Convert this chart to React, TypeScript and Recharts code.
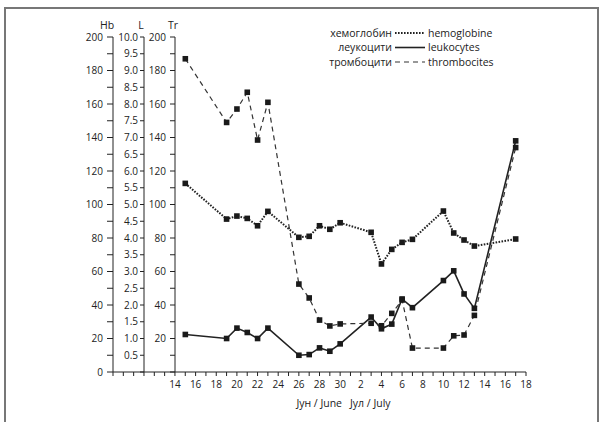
import React from 'react';
import { LineChart, Line, XAxis, YAxis } from 'recharts';

// Day index: June d -> d, July d -> 30 + d
const days = [15, 19, 20, 21, 22, 23, 26, 27, 28, 29, 30, 33, 34, 35, 36, 37, 40, 41, 42, 43, 47];
const hemoglobin = [112.6, 91.3, 93.1, 91.7, 87.3, 95.9, 80.4, 81, 87.3, 85.2, 89.1, 83.4, 64.5, 73.2, 77.4, 79.2, 96.1, 83, 78.8, 75.2, 79.4];
const leukocytes = [1.12, 1.0, 1.31, 1.18, 1.0, 1.31, 0.5, 0.52, 0.72, 0.62, 0.84, 1.64, 1.29, 1.43, 2.18, 1.92, 2.73, 3.02, 2.33, 1.9, 6.9];
const thrombocytes = [187, 149, 157, 167, 138.5, 161, 52.5, 44.2, 31, 27.5, 28.7, 29.1, 27.6, 35, 43, 14.3, 14.3, 21.6, 22.1, 33.8, 134];

const xTicks = [8, 9, 10, 11, 12, 13, 14, 15, 16, 17, 18, 19, 20, 21, 22, 23, 24, 25, 26, 27, 28, 29, 30, 31, 32, 33, 34, 35, 36, 37, 38, 39, 40, 41, 42, 43, 44, 45, 46, 47, 48];
const hbTicks = [0, 10, 20, 30, 40, 50, 60, 70, 80, 90, 100, 110, 120, 130, 140, 150, 160, 170, 180, 190, 200];
const trTicks = [0, 10, 20, 30, 40, 50, 60, 70, 80, 90, 100, 110, 120, 130, 140, 150, 160, 170, 180, 190, 200];
const lTicks = [0, 0.5, 1, 1.5, 2, 2.5, 3, 3.5, 4, 4.5, 5, 5.5, 6, 6.5, 7, 7.5, 8, 8.5, 9, 9.5, 10];

const axisTitles = { hb: 'Hb', l: 'L', tr: 'Tr' };
const monthLabels = ['Јун / June', 'Јул / July'];
const legendItems = [
  { mk: 'хемоглобин', en: 'hemoglobine', key: 'hb' },
  { mk: 'леукоцити', en: 'leukocytes', key: 'l' },
  { mk: 'тромбоцити', en: 'thrombocites', key: 'tr' },
];

const rows = days.map((d, i) => ({ day: d, hb: hemoglobin[i], l: leukocytes[i], tr: thrombocytes[i] }));

const FONT = '"Open Sans", sans-serif';
const INK = '#222';
const tickStyle = { fill: INK, fontSize: 10, fontFamily: FONT };

const lineStyles: Record<string, { dash?: string; width: number; color: string }> = {
  hb: { dash: '1.6 1.4', width: 2, color: '#222' },
  l: { width: 1.6, color: '#222' },
  tr: { dash: '5 4', width: 1.2, color: '#333' },
};

const dayLabel = (d: number) => {
  if (d < 14 || d % 2 !== 0) return '';
  return String(d <= 30 ? d : d - 30);
};

const SquareDot = (props: any) => {
  const { cx, cy } = props;
  if (cx == null || cy == null) return <g />;
  return <rect x={cx - 2.8} y={cy - 2.8} width={5.6} height={5.6} fill="#1a1a1a" stroke="none" />;
};

const axisTitle = (text: string, dx: number) => (props: any) => {
  const vb = props.viewBox || {};
  return (
    <text x={vb.x + vb.width - dx} y={vb.y - 8} textAnchor="middle" fill={INK} stroke="none" fontSize={10.5} fontFamily={FONT}>
      {text}
    </text>
  );
};

const monthLabel = (props: any) => {
  const vb = props.viewBox || {};
  const y = vb.y + 35;
  return (
    <g>
      <text x={342} y={y} textAnchor="end" fill={INK} stroke="none" fontSize={10.5} fontFamily={FONT}>{monthLabels[0]}</text>
      <text x={350} y={y} textAnchor="start" fill={INK} stroke="none" fontSize={10.5} fontFamily={FONT}>{monthLabels[1]}</text>
    </g>
  );
};

export default function App() {
  return (
    <div style={{ position: 'absolute', left: 0, top: 0, width: 601, height: 422, background: '#fff', overflow: 'hidden' }}>
      <div style={{ position: 'absolute', left: 4, top: 7, width: 591, height: 430, border: '2px solid #777' }} />
      <div style={{ position: 'absolute', left: 0, top: 0 }}>
        <LineChart width={601} height={422} data={rows} margin={{ top: 37, right: 75, bottom: 20, left: 53 }}>
          <XAxis
            dataKey="day"
            type="number"
            domain={[8, 48]}
            ticks={xTicks}
            interval={0}
            tickFormatter={dayLabel}
            tickSize={4}
            tickMargin={5}
            height={30}
            stroke={INK}
            tick={tickStyle}
            label={{ content: monthLabel }}
          />
          <YAxis
            yAxisId="hb"
            domain={[0, 200]}
            ticks={hbTicks}
            interval={0}
            tickFormatter={(v: number) => (v % 20 === 0 ? String(v) : '')}
            width={60}
            tickSize={6}
            tickMargin={4}
            stroke={INK}
            tick={tickStyle}
            label={{ content: axisTitle(axisTitles.hb, 6) }}
          />
          <Line yAxisId="hb" dataKey="hb" stroke={lineStyles.hb.color} strokeWidth={lineStyles.hb.width} strokeDasharray={lineStyles.hb.dash} dot={<SquareDot />} isAnimationActive={false} />
        </LineChart>
      </div>
      <div style={{ position: 'absolute', left: 0, top: 0 }}>
        <LineChart width={601} height={422} data={rows} margin={{ top: 37, right: 75, bottom: 50, left: 113 }}>
          <XAxis dataKey="day" type="number" domain={[14, 48]} hide />
          <YAxis
            yAxisId="a_tr"
            domain={[0, 200]}
            ticks={trTicks}
            interval={0}
            tickFormatter={(v: number) => (v > 0 && v % 20 === 0 ? String(v) : '')}
            width={31}
            tickSize={5}
            tickMargin={4}
            stroke={INK}
            tick={tickStyle}
            label={{ content: axisTitle(axisTitles.tr, 2) }}
          />
          <YAxis
            yAxisId="b_l"
            domain={[0, 10]}
            ticks={lTicks}
            interval={0}
            tickFormatter={(v: number) => (v > 0 ? v.toFixed(1) : '')}
            width={31}
            tickSize={4}
            tickMargin={2}
            stroke={INK}
            tick={tickStyle}
            label={{ content: axisTitle(axisTitles.l, 3) }}
          />
          <Line yAxisId="b_l" dataKey="l" stroke={lineStyles.l.color} strokeWidth={lineStyles.l.width} dot={<SquareDot />} isAnimationActive={false} />
          <Line yAxisId="a_tr" dataKey="tr" stroke={lineStyles.tr.color} strokeWidth={lineStyles.tr.width} strokeDasharray={lineStyles.tr.dash} dot={<SquareDot />} isAnimationActive={false} />
        </LineChart>
      </div>
      <svg width={601} height={422} style={{ position: 'absolute', left: 0, top: 0, pointerEvents: 'none' }}>
        {legendItems.map((it, i) => {
          const y = 33 + i * 14.5;
          const st = lineStyles[it.key];
          return (
            <g key={it.key}>
              <text x={392} y={y + 3.5} textAnchor="end" fill={INK} fontSize={10.5} fontFamily={FONT}>{it.mk}</text>
              <line x1={395} x2={425} y1={y} y2={y} stroke={st.color} strokeWidth={st.width} strokeDasharray={st.dash} />
              <text x={428} y={y + 3.5} textAnchor="start" fill={INK} fontSize={10.5} fontFamily={FONT}>{it.en}</text>
            </g>
          );
        })}
      </svg>
    </div>
  );
}
